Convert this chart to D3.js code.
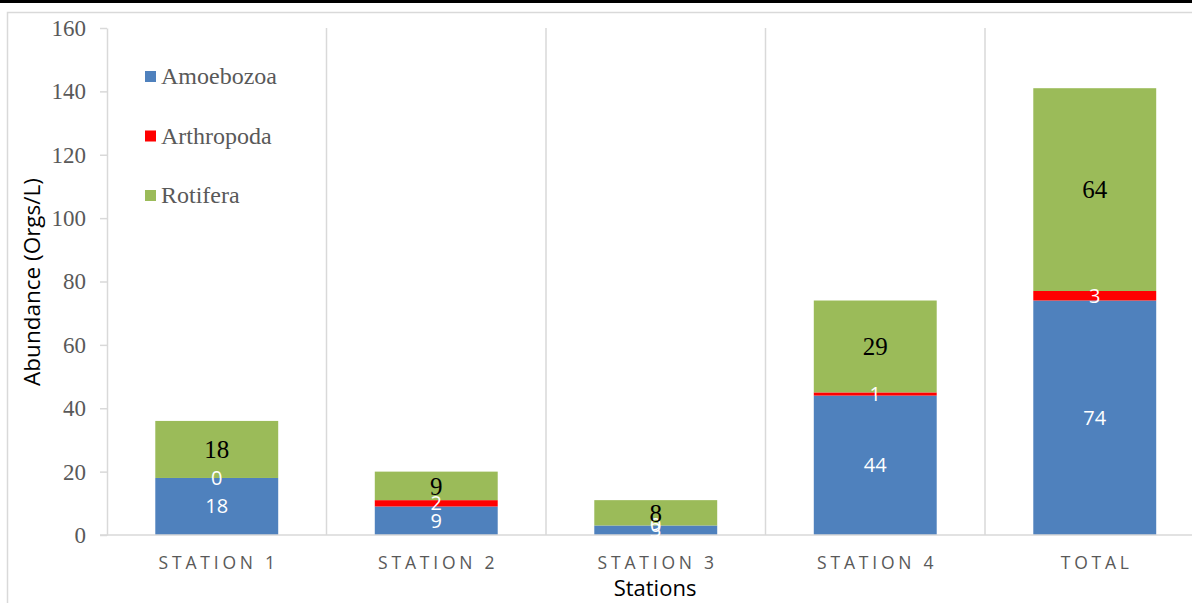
<!DOCTYPE html>
<html>
<head>
<meta charset="utf-8">
<script src="https://cdn.jsdelivr.net/npm/d3@7"></script>
<style>
  body { margin: 0; background: #fff; }
  svg { display: block; }
</style>
</head>
<body>
<svg id="chart"></svg>
<script>
const stations = ['STATION 1', 'STATION 2', 'STATION 3', 'STATION 4', 'TOTAL'];
const amoebozoa = [18, 9, 3, 44, 74];
const arthropoda = [0, 2, 0, 1, 3];
const rotifera = [18, 9, 8, 29, 64];
const seriesNames = ['Amoebozoa', 'Arthropoda', 'Rotifera'];
const yTicks = [0, 20, 40, 60, 80, 100, 120, 140, 160];

const colors = { Amoebozoa: '#4F81BD', Arthropoda: '#FF0000', Rotifera: '#9BBB59' };
const W = 1192, H = 603;

const svg = d3.select('#chart').attr('width', W).attr('height', H);

// top black strip and chart frame
svg.append('rect').attr('x', 0).attr('y', 0).attr('width', W).attr('height', 3).attr('fill', '#000');
svg.append('rect').attr('x', 7.5).attr('y', 12.5).attr('width', W + 20).attr('height', H + 20)
    .attr('fill', 'none').attr('stroke', '#d9d9d9').attr('stroke-width', 1.5);

const step = 219.5;
const left = 107;
const x = d3.scaleBand()
    .domain(stations)
    .range([left, left + step * stations.length])
    .paddingInner(0.44)
    .paddingOuter(0.22);

const y = d3.scaleLinear().domain([0, 160]).range([535, 28]);

const table = stations.map((s, i) => ({
  station: s,
  Amoebozoa: amoebozoa[i],
  Arthropoda: arthropoda[i],
  Rotifera: rotifera[i]
}));
const stacked = d3.stack().keys(seriesNames)(table);

// category separators
const gap = (x.step() - x.bandwidth()) / 2;
svg.append('g').selectAll('line')
    .data(stations.slice(1))
  .join('line')
    .attr('x1', d => x(d) - gap)
    .attr('x2', d => x(d) - gap)
    .attr('y1', y(160))
    .attr('y2', y(0))
    .attr('stroke', '#d9d9d9')
    .attr('stroke-width', 1.5);

// y axis
const yAxis = d3.axisLeft(y).tickValues(yTicks).tickSize(7).tickPadding(14).tickSizeOuter(0);
const yAxisG = svg.append('g')
    .attr('transform', `translate(${left},0)`)
    .call(yAxis);
yAxisG.select('.domain').attr('stroke', '#d9d9d9').attr('stroke-width', 1.5);
yAxisG.selectAll('.tick line').attr('stroke', '#d9d9d9').attr('stroke-width', 1.5);
yAxisG.selectAll('.tick text')
    .attr('fill', '#595959')
    .style('font-family', '"Liberation Serif", "Times New Roman", serif')
    .style('font-size', '23px');

// bars
const groups = svg.append('g').selectAll('g')
    .data(stacked)
  .join('g')
    .attr('fill', d => colors[d.key]);

groups.selectAll('rect')
    .data(d => d)
  .join('rect')
    .attr('x', d => x(d.data.station))
    .attr('width', x.bandwidth())
    .attr('y', d => y(d[1]))
    .attr('height', d => y(d[0]) - y(d[1]));

// x axis line
svg.append('line')
    .attr('x1', left - 7).attr('x2', W)
    .attr('y1', y(0)).attr('y2', y(0))
    .attr('stroke', '#d9d9d9').attr('stroke-width', 1.5);

// data labels
stacked.forEach(layer => {
  const isRot = layer.key === 'Rotifera';
  svg.append('g').selectAll('text')
      .data(layer)
    .join('text')
      .attr('x', d => x(d.data.station) + x.bandwidth() / 2)
      .attr('y', d => (y(d[0]) + y(d[1])) / 2)
      .attr('dy', '0.35em')
      .attr('text-anchor', 'middle')
      .attr('fill', isRot ? '#000' : '#fff')
      .style('font-family', isRot ? '"Liberation Serif", "Times New Roman", serif' : '"Open Sans", sans-serif')
      .style('font-size', isRot ? '25px' : '20px')
      .text(d => d.data[layer.key]);
});

// category labels
svg.append('g').selectAll('text')
    .data(stations)
  .join('text')
    .attr('x', d => x(d) + x.bandwidth() / 2 + 2)
    .attr('y', 569)
    .attr('text-anchor', 'middle')
    .attr('fill', '#595959')
    .style('font-family', '"Open Sans", sans-serif')
    .style('font-size', '17.5px')
    .style('letter-spacing', '3.8px')
    .text(d => d);

// axis titles
svg.append('text')
    .attr('x', 655).attr('y', 596)
    .attr('text-anchor', 'middle')
    .style('font-family', '"Open Sans", sans-serif')
    .style('font-size', '22px')
    .text('Stations');

svg.append('text')
    .attr('transform', 'translate(40,282) rotate(-90)')
    .attr('text-anchor', 'middle')
    .style('font-family', '"Open Sans", sans-serif')
    .style('font-size', '22.5px')
    .text('Abundance (Orgs/L)');

// legend
const legend = svg.append('g').selectAll('g')
    .data(seriesNames)
  .join('g')
    .attr('transform', (d, i) => `translate(145,${76 + i * 59.5})`);
legend.append('rect')
    .attr('x', 0).attr('y', -5)
    .attr('width', 11).attr('height', 11)
    .attr('fill', d => colors[d]);
legend.append('text')
    .attr('x', 16).attr('y', 0).attr('dy', '0.35em')
    .attr('fill', '#595959')
    .style('font-family', '"Liberation Serif", "Times New Roman", serif')
    .style('font-size', '24px')
    .text(d => d);
</script>
</body>
</html>
